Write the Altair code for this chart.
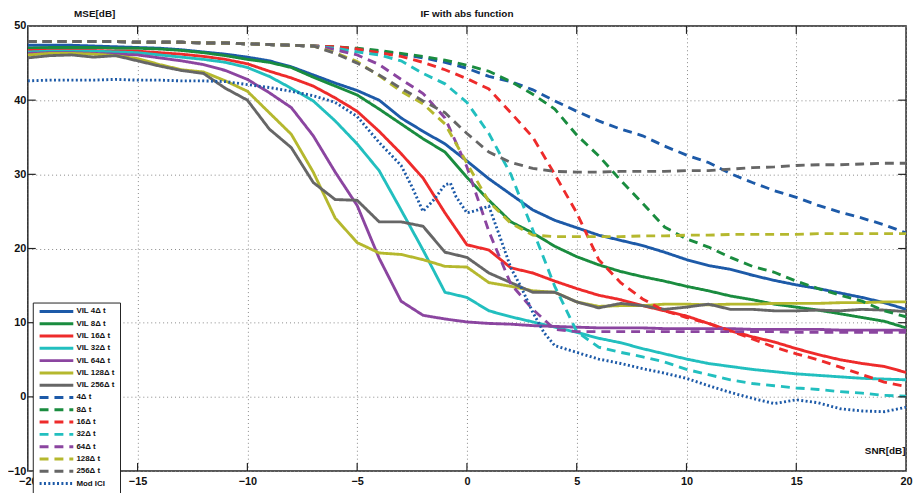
import altair as alt
import pandas as pd

# ---------------- data ----------------
snr = list(range(-20, 21))

vil_4 = [47.4, 47.4, 47.4, 47.3, 47.2, 47.1, 47.0, 46.8, 46.5, 46.2, 45.8,
         45.3, 44.5, 43.4, 42.3, 41.3, 40.0, 37.6, 35.8, 34.1,
         31.8, 29.4, 27.3, 25.2, 23.8, 22.8, 21.8, 21.1, 20.4, 19.5, 18.5,
         17.7, 17.2, 16.4, 15.7, 15.1, 14.6, 14.0, 13.4, 12.7, 11.8]
vil_8 = [47.0, 47.1, 47.1, 47.1, 47.0, 47.0, 46.9, 46.7, 46.4, 46.0, 45.5,
         45.1, 44.4, 43.1, 41.9, 40.7, 38.8, 36.8, 34.8, 33.0,
         29.6, 26.5, 23.6, 22.1, 20.3, 18.9, 17.8, 16.9, 16.2, 15.6, 14.9,
         14.3, 13.6, 13.1, 12.5, 12.1, 11.7, 11.2, 10.7, 10.2, 9.3]
vil_16 = [46.7, 46.7, 46.7, 46.7, 46.6, 46.6, 46.4, 46.2, 45.9, 45.5, 44.9,
          43.9, 43.0, 41.9, 40.3, 38.5, 35.8, 32.8, 29.5, 24.8,
          20.5, 19.8, 17.4, 16.7, 15.6, 14.6, 13.7, 13.1, 12.3, 11.6, 10.9,
          9.9, 8.9, 8.1, 7.4, 6.5, 5.7, 5.0, 4.5, 4.1, 3.3]
vil_32 = [46.5, 46.6, 46.6, 46.6, 46.5, 46.4, 46.1, 45.8, 45.5, 45.1, 44.4,
          43.2, 41.6, 39.9, 37.2, 34.1, 30.5, 25.2, 19.8, 14.1,
          13.4, 11.6, 10.8, 10.1, 9.4, 8.7, 7.9, 7.3, 6.5, 5.8, 5.1,
          4.5, 4.1, 3.7, 3.4, 3.1, 2.9, 2.7, 2.5, 2.4, 2.3]
vil_64 = [46.3, 46.4, 46.4, 46.3, 46.2, 46.1, 45.7, 45.3, 44.8, 44.0, 42.8,
          41.0, 39.0, 35.2, 30.3, 25.8, 18.7, 12.9, 11.0, 10.5,
          10.1, 9.9, 9.8, 9.6, 9.5, 9.4, 9.3, 9.3, 9.3, 9.2, 9.2,
          9.2, 9.2, 9.1, 9.1, 9.1, 9.1, 9.0, 9.0, 9.0, 9.0]
vil_128 = [46.1, 46.3, 46.3, 46.2, 46.0, 45.6, 44.8, 44.1, 43.8, 42.6, 41.2,
           38.3, 35.4, 30.3, 24.1, 20.8, 19.4, 19.2, 18.5, 17.6,
           17.5, 15.4, 14.9, 14.3, 14.1, 12.8, 12.2, 12.3, 12.3, 12.5, 12.5,
           12.4, 12.5, 12.5, 12.6, 12.6, 12.6, 12.7, 12.7, 12.8, 12.8]
vil_256 = [45.7, 46.0, 46.1, 45.8, 46.0, 45.3, 44.6, 44.0, 43.6, 41.6, 40.0,
           36.1, 33.6, 28.9, 26.6, 26.5, 23.6, 23.6, 23.0, 19.5,
           18.8, 16.7, 15.4, 14.1, 14.1, 12.8, 12.0, 12.6, 12.3, 11.8, 12.1,
           12.5, 11.8, 11.8, 11.6, 11.6, 11.7, 11.6, 11.8, 11.7, 11.5]

d_4 = [47.9, 47.9, 47.9, 47.9, 47.9, 47.8, 47.8, 47.8, 47.7, 47.7, 47.6,
       47.5, 47.4, 47.3, 47.1, 46.9, 46.5, 46.2, 45.7, 45.1,
       44.3, 43.2, 42.5, 41.4, 39.9, 38.5, 37.2, 36.1, 35.2, 33.8, 32.6,
       31.6, 30.1, 28.9, 27.8, 26.9, 25.8, 24.9, 24.1, 23.2, 22.1]
d_8 = [47.9, 47.9, 47.9, 47.9, 47.9, 47.8, 47.8, 47.8, 47.7, 47.7, 47.6,
       47.5, 47.4, 47.3, 47.2, 47.0, 46.7, 46.3, 45.9, 45.4,
       44.7, 43.9, 42.5, 40.8, 38.8, 35.3, 32.5, 29.2, 26.1, 22.9, 21.3,
       20.2, 18.8, 17.6, 16.8, 15.6, 14.6, 13.7, 12.9, 11.6, 10.8]
d_16 = [47.9, 47.9, 47.9, 47.9, 47.9, 47.8, 47.8, 47.8, 47.7, 47.7, 47.6,
        47.5, 47.4, 47.3, 47.2, 46.9, 46.4, 45.9, 45.1, 44.1,
        42.9, 41.5, 38.3, 35.0, 30.0, 24.8, 18.5, 15.4, 13.2, 11.6, 10.7,
        9.9, 8.9, 7.8, 6.7, 5.8, 5.0, 4.0, 3.0, 2.0, 1.4]
d_32 = [47.9, 47.9, 47.9, 47.9, 47.9, 47.8, 47.8, 47.8, 47.7, 47.7, 47.6,
        47.5, 47.4, 47.3, 47.0, 46.5, 46.1, 45.3, 43.6, 42.2,
        39.7, 35.5, 30.0, 22.5, 14.9, 8.8, 6.7, 6.0, 5.4, 4.7, 3.7,
        3.0, 2.3, 1.8, 1.5, 1.2, 1.0, 0.7, 0.5, 0.2, 0.1]
d_64 = [47.9, 47.9, 47.9, 47.9, 47.9, 47.8, 47.8, 47.8, 47.7, 47.7, 47.6,
        47.5, 47.4, 47.3, 46.8, 46.1, 44.8, 42.8, 40.9, 37.6,
        31.0, 22.3, 15.2, 11.8, 9.1, 8.8, 8.8, 8.8, 8.8, 8.8, 8.8,
        8.8, 8.8, 8.8, 8.8, 8.7, 8.7, 8.7, 8.7, 8.7, 8.7]
d_128 = [47.9, 47.9, 47.9, 47.9, 47.9, 47.8, 47.8, 47.8, 47.7, 47.7, 47.6,
         47.5, 47.4, 47.3, 46.4, 45.2, 43.3, 41.2, 39.5, 36.8,
         31.5, 26.3, 23.4, 21.8, 21.6, 21.6, 21.6, 21.6, 21.7, 21.7, 21.8,
         21.8, 21.9, 21.9, 21.9, 21.9, 22.0, 22.0, 22.0, 22.0, 22.0]
d_256 = [47.9, 47.9, 47.9, 47.9, 47.9, 47.8, 47.8, 47.8, 47.7, 47.7, 47.6,
         47.5, 47.4, 47.3, 46.3, 45.0, 43.4, 41.6, 39.9, 38.3,
         35.5, 33.0, 31.6, 30.8, 30.4, 30.3, 30.3, 30.4, 30.4, 30.4, 30.5,
         30.5, 30.7, 30.9, 31.0, 31.2, 31.3, 31.3, 31.4, 31.5, 31.5]

ici_snr = [-20, -19, -18, -17, -16, -15, -14, -13, -12, -11, -10, -9, -8, -7,
           -6, -5, -4, -3, -2.5, -2, -1.5, -1, -0.75, -0.5, 0, 0.5, 1, 1.5,
           2, 2.5, 3, 3.5, 4, 5, 6, 7, 8, 9, 10, 11, 12, 13, 14, 15, 16, 17,
           18, 19, 20]
ici_mse = [42.6, 42.7, 42.7, 42.7, 42.8, 42.7, 42.7, 42.6, 42.6, 42.5, 42.1,
           41.7, 41.2, 40.6, 39.7, 37.8, 34.3, 31.2, 28.3, 25.0, 26.6, 28.6,
           28.8, 27.0, 24.8, 25.2, 25.7, 21.6, 17.4, 14.6, 11.4, 8.7, 6.9,
           6.0, 5.1, 4.5, 3.8, 3.2, 2.5, 1.5, 0.6, -0.2, -0.9, -0.4, -0.8,
           -1.6, -1.9, -2.0, -1.4]

names = ["VIL 4\u0394 t", "VIL 8\u0394 t", "VIL 16\u0394 t", "VIL 32\u0394 t",
         "VIL 64\u0394 t", "VIL 128\u0394 t", "VIL 256\u0394 t",
         "4\u0394 t", "8\u0394 t", "16\u0394 t", "32\u0394 t", "64\u0394 t",
         "128\u0394 t", "256\u0394 t", "Mod ICI"]
series_values = [vil_4, vil_8, vil_16, vil_32, vil_64, vil_128, vil_256,
                 d_4, d_8, d_16, d_32, d_64, d_128, d_256]

x_ticks = [-20, -15, -10, -5, 0, 5, 10, 15, 20]
y_ticks = [-10, 0, 10, 20, 30, 40, 50]

# ---------------- styles ----------------
base_colors = ["#1d5aa8", "#1a8c3f", "#ee2b2b", "#22bfbf", "#8b45a0",
               "#b5b82e", "#666666"]
colors = base_colors + base_colors + ["#1d5aa8"]
dashes = [[1, 0]] * 7 + [[9, 6]] * 7 + [[2, 2.4]]

rows = []
for name, vals in zip(names, series_values):
    for s, v in zip(snr, vals):
        rows.append({"snr": s, "mse": v, "series": name})
for s, v in zip(ici_snr, ici_mse):
    rows.append({"snr": s, "mse": v, "series": "Mod ICI"})
df = pd.DataFrame(rows)

W, H = 886, 449
FONT = "Liberation Sans"

legend = alt.Legend(
    title=None, orient="none", legendX=5, legendY=279,
    symbolType="M-1,0H15", symbolSize=18.06, symbolStrokeWidth=3,
    labelFont=FONT, labelFontSize=8, labelFontWeight="bold",
    labelColor="#111", labelOffset=31, padding=5, rowPadding=0.4,
    strokeColor="#222", fillColor="white", cornerRadius=0,
)

xscale = alt.Scale(domain=[-20, 20], nice=False, zero=False)
yscale = alt.Scale(domain=[-10, 50], nice=False, zero=False)
x_axis = alt.Axis(values=x_ticks, title="SNR[dB]", titleX=885, titleY=-21,
                  titleAlign="right", titleBaseline="middle", labelFlush=False,
                  labelPadding=5, format="d")
y_axis = alt.Axis(values=y_ticks, title="MSE[dB]", titleAngle=0, titleX=67,
                  titleY=-13, titleAlign="center", titleBaseline="middle",
                  labelPadding=2, format="d")

lines = alt.Chart(df).mark_line(strokeWidth=2.9, clip=True, strokeCap="butt").encode(
    x=alt.X("snr:Q", scale=xscale, axis=x_axis),
    y=alt.Y("mse:Q", scale=yscale, axis=y_axis),
    color=alt.Color("series:N", scale=alt.Scale(domain=names, range=colors),
                    sort=names, legend=legend),
    strokeDash=alt.StrokeDash("series:N", scale=alt.Scale(domain=names, range=dashes),
                              sort=names, legend=legend),
)

xt = pd.DataFrame({"snr": x_ticks[1:-1]})
yt = pd.DataFrame({"mse": y_ticks[1:-1]})
tick_style = dict(color="#222", strokeWidth=1.2)
top_ticks = alt.Chart(xt).mark_rule(**tick_style).encode(
    x=alt.X("snr:Q", scale=xscale, axis=x_axis), y=alt.value(0), y2=alt.value(8))
bot_ticks = alt.Chart(xt).mark_rule(**tick_style).encode(
    x=alt.X("snr:Q", scale=xscale, axis=x_axis), y=alt.value(H), y2=alt.value(H - 8))
left_ticks = alt.Chart(yt).mark_rule(**tick_style).encode(
    y=alt.Y("mse:Q", scale=yscale, axis=y_axis), x=alt.value(0), x2=alt.value(8))
right_ticks = alt.Chart(yt).mark_rule(**tick_style).encode(
    y=alt.Y("mse:Q", scale=yscale, axis=y_axis), x=alt.value(W), x2=alt.value(W - 8))

chart = alt.layer(lines, top_ticks, bot_ticks, left_ticks, right_ticks).properties(
    width=W, height=H,
    title=alt.TitleParams("IF with abs function", font=FONT, fontSize=10,
                          fontWeight="bold", anchor="middle", offset=-11,
                          frame="group", color="#111"),
    autosize=alt.AutoSizeParams(type="none"),
    padding={"left": 20, "top": 16, "right": 7, "bottom": 20},
).configure_view(
    stroke="#222", strokeWidth=1.5
).configure_axis(
    labelFont=FONT, labelFontSize=11, labelFontWeight="bold", labelColor="#111",
    titleFont=FONT, titleFontSize=10, titleFontWeight="bold", titleColor="#111",
    domain=False, ticks=False, grid=True, gridDash=[1, 3], gridColor="#888",
    gridWidth=1,
)

chart.save("out.html", embed_options={"renderer": "svg", "actions": False})
